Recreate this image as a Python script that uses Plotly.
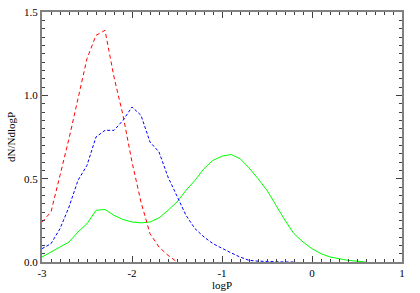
import plotly.graph_objects as go

logp_red = [-3.0, -2.9, -2.8, -2.7, -2.6, -2.5, -2.4, -2.3, -2.2, -2.1, -2.0, -1.9, -1.8, -1.7, -1.6, -1.5]
red = [0.24, 0.30, 0.52, 0.74, 0.98, 1.22, 1.36, 1.39, 1.11, 0.88, 0.60, 0.36, 0.17, 0.09, 0.04, 0.0]

logp_blue = [-3.0, -2.9, -2.8, -2.7, -2.6, -2.5, -2.4, -2.3, -2.2, -2.1, -2.0, -1.9, -1.8, -1.7, -1.6,
             -1.5, -1.4, -1.3, -1.2, -1.1, -1.0, -0.9, -0.8, -0.7, -0.6, -0.5, -0.4, -0.3, -0.2]
blue = [0.08, 0.11, 0.20, 0.33, 0.49, 0.58, 0.75, 0.79, 0.79, 0.85, 0.93, 0.88, 0.72, 0.66, 0.51,
        0.40, 0.28, 0.20, 0.15, 0.11, 0.08, 0.055, 0.03, 0.01, 0.005, 0.002, 0.0, 0.0, 0.0]

logp_green = [-3.0, -2.9, -2.8, -2.7, -2.6, -2.5, -2.4, -2.3, -2.2, -2.1, -2.0, -1.9, -1.8, -1.7, -1.6,
              -1.5, -1.4, -1.3, -1.2, -1.1, -1.0, -0.9, -0.8, -0.7, -0.6, -0.5, -0.4, -0.3, -0.2,
              -0.1, 0.0, 0.1, 0.2, 0.3, 0.4, 0.5, 0.6]
green = [0.03, 0.06, 0.09, 0.12, 0.18, 0.23, 0.31, 0.315, 0.28, 0.255, 0.24, 0.235, 0.24, 0.265, 0.31,
         0.36, 0.43, 0.49, 0.56, 0.61, 0.635, 0.645, 0.62, 0.565, 0.50, 0.43, 0.34, 0.25, 0.17,
         0.12, 0.08, 0.05, 0.03, 0.02, 0.01, 0.005, 0.0]

x_tickvals = [-3, -2, -1, 0, 1]
x_ticktext = ["-3", "-2", "-1", "0", "1"]
y_tickvals = [0.0, 0.5, 1.0, 1.5]
y_ticktext = ["0.0", "0.5", "1.0", "1.5"]

fig = go.Figure()
fig.add_trace(go.Scatter(x=logp_green, y=green, mode="lines",
                         line=dict(color="#00ff00", width=1)))
fig.add_trace(go.Scatter(x=logp_blue, y=blue, mode="lines",
                         line=dict(color="#0000ff", width=1, dash="3px,2px")))
fig.add_trace(go.Scatter(x=logp_red, y=red, mode="lines",
                         line=dict(color="#ff0000", width=1, dash="4px,3px")))

font = dict(family="Liberation Serif, Times New Roman, serif", size=11, color="#000000")
axis_common = dict(showgrid=False, zeroline=False, showline=True, linecolor="#808080", linewidth=2,
                   mirror="allticks", ticks="inside", tickcolor="#404040", tickwidth=1,
                   tickfont=font, automargin=False)

fig.update_xaxes(range=[-3, 1], tickvals=x_tickvals, ticktext=x_ticktext, ticklen=6,
                 minor=dict(dtick=0.1, tick0=-3, ticks="inside", ticklen=3, tickcolor="#404040"),
                 title=dict(text="logP", font=font, standoff=2), **axis_common)
fig.update_yaxes(range=[0, 1.5], tickvals=y_tickvals, ticktext=y_ticktext, ticklen=6,
                 minor=dict(dtick=0.05, tick0=0, ticks="inside", ticklen=3, tickcolor="#404040"),
                 title=dict(text="dN/NdlogP", font=font, standoff=6), **axis_common)

fig.update_layout(width=420, height=293, margin=dict(l=42, r=18, t=12, b=31),
                  paper_bgcolor="white", plot_bgcolor="white", showlegend=False, font=font)

fig.write_html("out.html", config={"displayModeBar": False},
               post_script="document.body.style.margin='0';document.body.style.overflow='hidden';")
